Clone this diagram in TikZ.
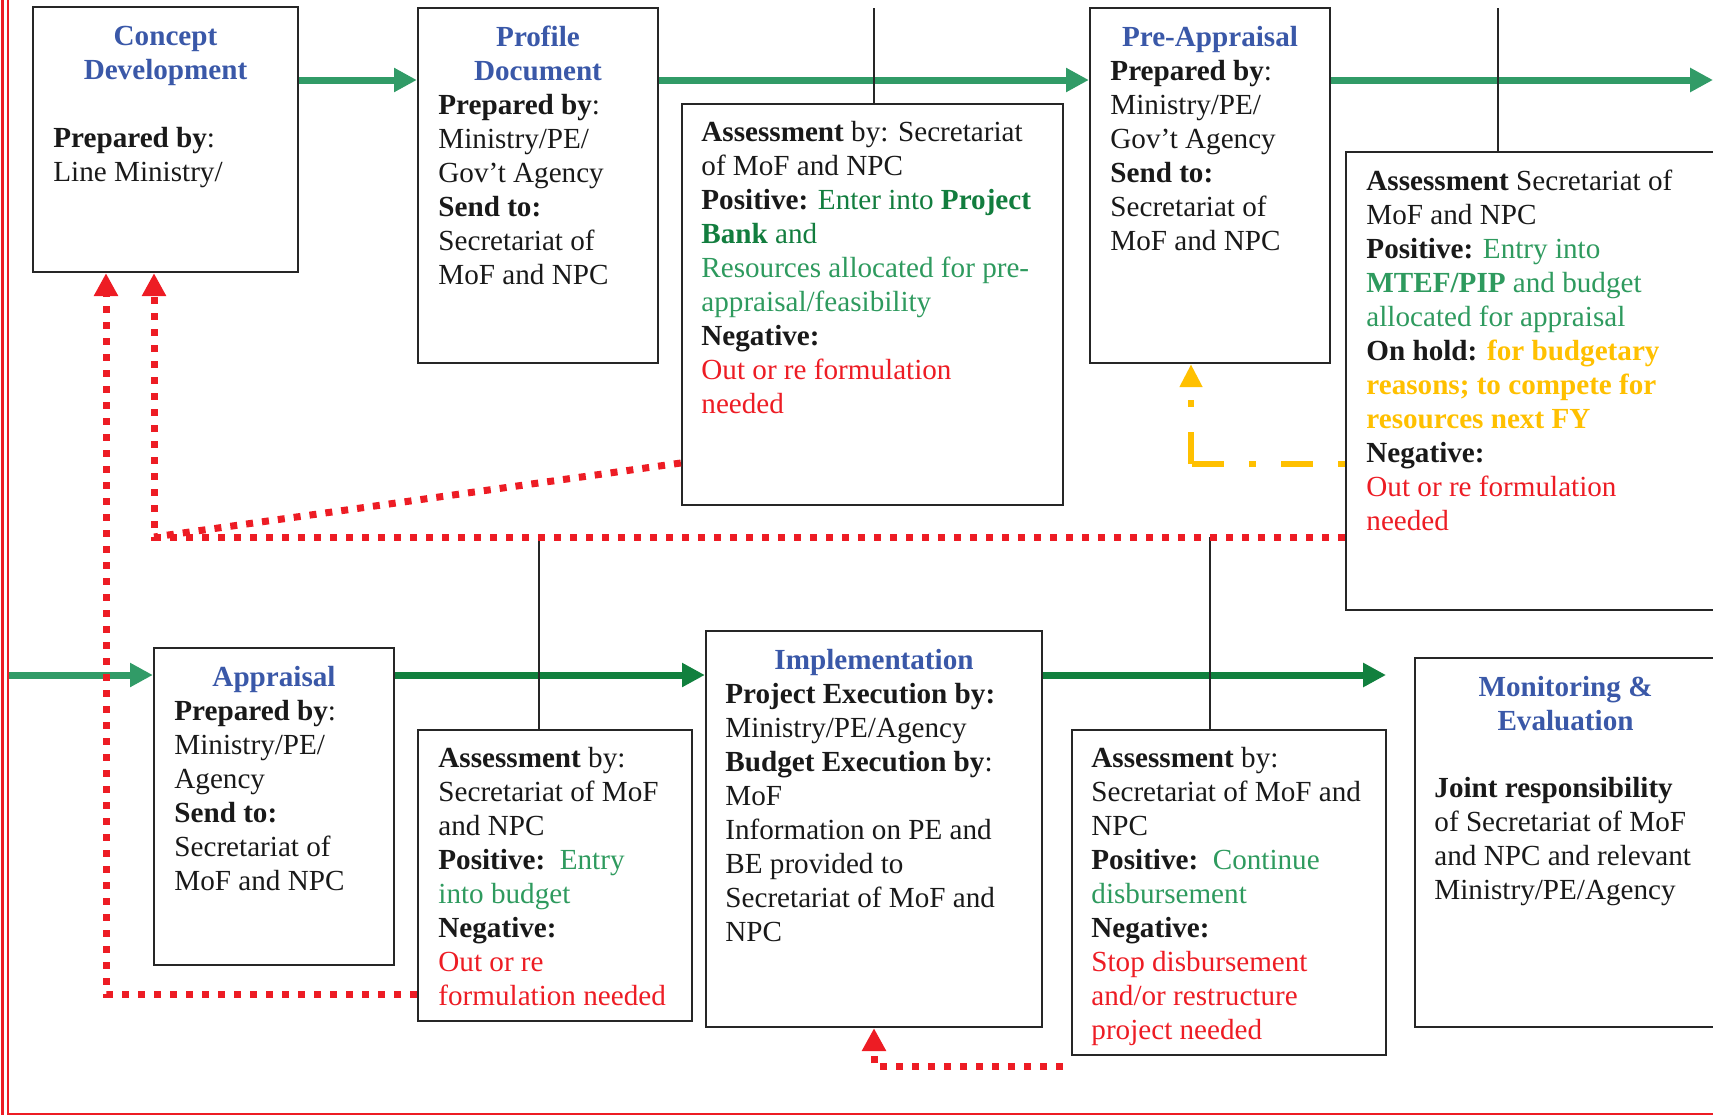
\documentclass[tikz,border=0pt]{standalone}
\usepackage{fontspec}
\setmainfont{Liberation Serif}
\usetikzlibrary{arrows.meta,fit}

\definecolor{stageblue}{RGB}{58,88,168}
\definecolor{passgreen}{RGB}{46,154,94}
\definecolor{bankgreen}{RGB}{18,125,62}
\definecolor{flowgreen}{RGB}{49,155,103}
\definecolor{flowdark}{RGB}{17,128,62}
\definecolor{failred}{RGB}{237,28,36}
\definecolor{holdyellow}{RGB}{255,192,0}

\newcommand\chartfont{\fontsize{10.2}{11.9}\selectfont}

\begin{document}
\begin{tikzpicture}[x=0.35pt, y=-0.35pt, font=\chartfont]
    \tikzstyle{box}=[draw=black!85, line width=0.8pt, inner sep=0pt]
    \tikzstyle{title}=[anchor=north, align=center, inner sep=0pt, text=stageblue, font=\chartfont\bfseries]
    \tikzstyle{body}=[anchor=north west, align=left, inner sep=0pt, text=black!90]
    \tikzstyle{flow}=[line width=2.45pt, -{Triangle[length=8pt,width=8pt]}]
    \tikzstyle{back}=[failred, line width=2.45pt, dash pattern=on 2.45pt off 3.15pt]
    \tikzstyle{hold}=[holdyellow, line width=2.3pt, dash pattern=on 2.45pt off 8.75pt on 11.2pt off 8.75pt]
    \tikzstyle{link}=[black!85, line width=0.7pt]

    \useasboundingbox (0,0) rectangle (1713,1115);

    % page frame
    \draw[failred, line width=0.9pt] (2.5,0) -- (2.5,1115);
    \draw[failred, line width=0.9pt] (8,0) -- (8,1114) -- (1713,1114);

    % upper row
    \node[box, fit={(33,7) (298,272)}] (concept) {};
    \node[title] (conceptTitle) at ([shift={(0,15)}]concept.north) {\strut Concept\\Development};
    \node[body] (conceptText) at ([shift={(21,117)}]concept.north west)
        {\strut\textbf{Prepared by}:\\Line Ministry/};

    \node[box, fit={(418,8) (658,363)}] (profile) {};
    \node[title] (profileTitle) at ([shift={(0,15)}]profile.north) {\strut Profile\\Document};
    \node[body] (profileText) at ([shift={(21,83)}]profile.north west)
        {\strut\textbf{Prepared by}:\\Ministry/PE/\\Gov't Agency\\\textbf{Send to:}\\Secretariat of\\MoF and NPC};

    \node[box, fit={(682,104) (1063,505)}] (assess1) {};
    \node[body] (assess1Text) at ([shift={(20,14)}]assess1.north west)
        {\strut\textbf{Assessment} by: Secretariat\\of MoF and NPC\\
         \textbf{Positive:} \textcolor{bankgreen}{Enter into \textbf{Project}}\\
         \textcolor{bankgreen}{\textbf{Bank} and}\\
         \textcolor{passgreen}{Resources allocated for pre-}\\
         \textcolor{passgreen}{appraisal/feasibility}\\
         \textbf{Negative:}\\
         \textcolor{failred}{Out or re formulation}\\
         \textcolor{failred}{needed}};

    \node[box, fit={(1090,8) (1330,363)}] (preapp) {};
    \node[title] (preappTitle) at ([shift={(0,15)}]preapp.north) {\strut Pre-Appraisal};
    \node[body] (preappText) at ([shift={(21,49)}]preapp.north west)
        {\strut\textbf{Prepared by}:\\Ministry/PE/\\Gov't Agency\\\textbf{Send to:}\\Secretariat of\\MoF and NPC};

    \node[box, fit={(1346,152) (1716,610)}] (assess2) {};
    \node[body] (assess2Text) at ([shift={(21,15)}]assess2.north west)
        {\strut\textbf{Assessment} Secretariat of\\MoF and NPC\\
         \textbf{Positive:} \textcolor{passgreen}{Entry into}\\
         \textcolor{passgreen}{\textbf{MTEF/PIP} and budget}\\
         \textcolor{passgreen}{allocated for appraisal}\\
         \textbf{On hold:} \textcolor{holdyellow}{\textbf{for budgetary}}\\
         \textcolor{holdyellow}{\textbf{reasons; to compete for}}\\
         \textcolor{holdyellow}{\textbf{resources next FY}}\\
         \textbf{Negative:}\\
         \textcolor{failred}{Out or re formulation}\\
         \textcolor{failred}{needed}};

    % lower row
    \node[box, fit={(154,648) (394,965)}] (appraisal) {};
    \node[title] (appraisalTitle) at ([shift={(0,15)}]appraisal.north) {\strut Appraisal};
    \node[body] (appraisalText) at ([shift={(21,49)}]appraisal.north west)
        {\strut\textbf{Prepared by}:\\Ministry/PE/\\Agency\\\textbf{Send to:}\\Secretariat of\\MoF and NPC};

    \node[box, fit={(418,730) (692,1021)}] (assess3) {};
    \node[body] (assess3Text) at ([shift={(21,14)}]assess3.north west)
        {\strut\textbf{Assessment} by:\\Secretariat of MoF\\and NPC\\
         \textbf{Positive:}\ \ \textcolor{passgreen}{Entry}\\
         \textcolor{passgreen}{into budget}\\
         \textbf{Negative:}\\
         \textcolor{failred}{Out or re}\\
         \textcolor{failred}{formulation needed}};

    \node[box, fit={(706,631) (1042,1027)}] (impl) {};
    \node[title] (implTitle) at ([shift={(0,15)}]impl.north) {\strut Implementation};
    \node[body] (implText) at ([shift={(20,49)}]impl.north west)
        {\strut\textbf{Project Execution by:}\\Ministry/PE/Agency\\
         \textbf{Budget Execution by}:\\MoF\\Information on PE and\\
         BE provided to\\Secretariat of MoF and\\NPC};

    \node[box, fit={(1072,730) (1386,1055)}] (assess4) {};
    \node[body] (assess4Text) at ([shift={(20,14)}]assess4.north west)
        {\strut\textbf{Assessment} by:\\Secretariat of MoF and\\NPC\\
         \textbf{Positive:}\ \ \textcolor{passgreen}{Continue}\\
         \textcolor{passgreen}{disbursement}\\
         \textbf{Negative:}\\
         \textcolor{failred}{Stop disbursement}\\
         \textcolor{failred}{and/or restructure}\\
         \textcolor{failred}{project needed}};

    \node[box, fit={(1415,658) (1716,1027)}] (monitor) {};
    \node[title] (monitorTitle) at ([shift={(0,15)}]monitor.north) {\strut Monitoring \&\\Evaluation};
    \node[body] (monitorText) at ([shift={(20,116)}]monitor.north west)
        {\strut\textbf{Joint responsibility}\\of Secretariat of MoF\\and NPC and relevant\\Ministry/PE/Agency};

    % main flow
    \coordinate (topflow) at (0,80);
    \coordinate (lowflow) at (0,675);
    \coordinate (topexit) at (1713,80);
    \coordinate (lowentry) at (9,675);
    \coordinate (lowexit) at (1386,675);

    \draw[flow, flowgreen] (concept.east |- topflow) -- (profile.west |- topflow);
    \draw[flow, flowgreen] (profile.east |- topflow) -- (preapp.west |- topflow);
    \draw[flow, flowgreen] (preapp.east |- topflow) -- (topexit);
    \draw[flow, flowgreen] (lowentry) -- (appraisal.west |- lowflow);
    \draw[flow, flowdark] (appraisal.east |- lowflow) -- (impl.west |- lowflow);
    \draw[flow, flowdark] (impl.east |- lowflow) -- (lowexit);

    % assessment taps
    \coordinate (tapA) at (874,8);
    \coordinate (tapB) at (1498,8);
    \coordinate (tapC) at (539,537);
    \coordinate (tapD) at (1210,537);
    \draw[link] (tapA) -- (tapA |- assess1.north);
    \draw[link] (tapB) -- (tapB |- assess2.north);
    \draw[link] (tapC) -- (tapC |- assess3.north);
    \draw[link] (tapD) -- (tapD |- assess4.north);

    % negative results go back
    \coordinate (backA) at (106,994);
    \coordinate (backB) at (154,537);
    \coordinate (backC) at (1063,1066);
    \coordinate (backD) at (0,463);
    \draw[back, -{Triangle[length=8pt,width=8pt]}] (assess3.west |- backA) -| (concept.south -| backA);
    \draw[back, -{Triangle[length=8pt,width=8pt]}] (assess2.west |- backB) -| (concept.south -| backB);
    \draw[back] (assess1.west |- backD) -- (backB);
    \draw[back, -{Triangle[length=8pt,width=8pt]}] (backC) -| (impl.south);

    % on hold
    \coordinate (holdturn) at (1191,464);
    \draw[hold] (assess2.west |- holdturn) -- (holdturn);
    \draw[hold, dash phase=11.2pt, -{Triangle[length=8pt,width=7.5pt]}] (holdturn) -- (preapp.south -| holdturn);
\end{tikzpicture}
\end{document}
